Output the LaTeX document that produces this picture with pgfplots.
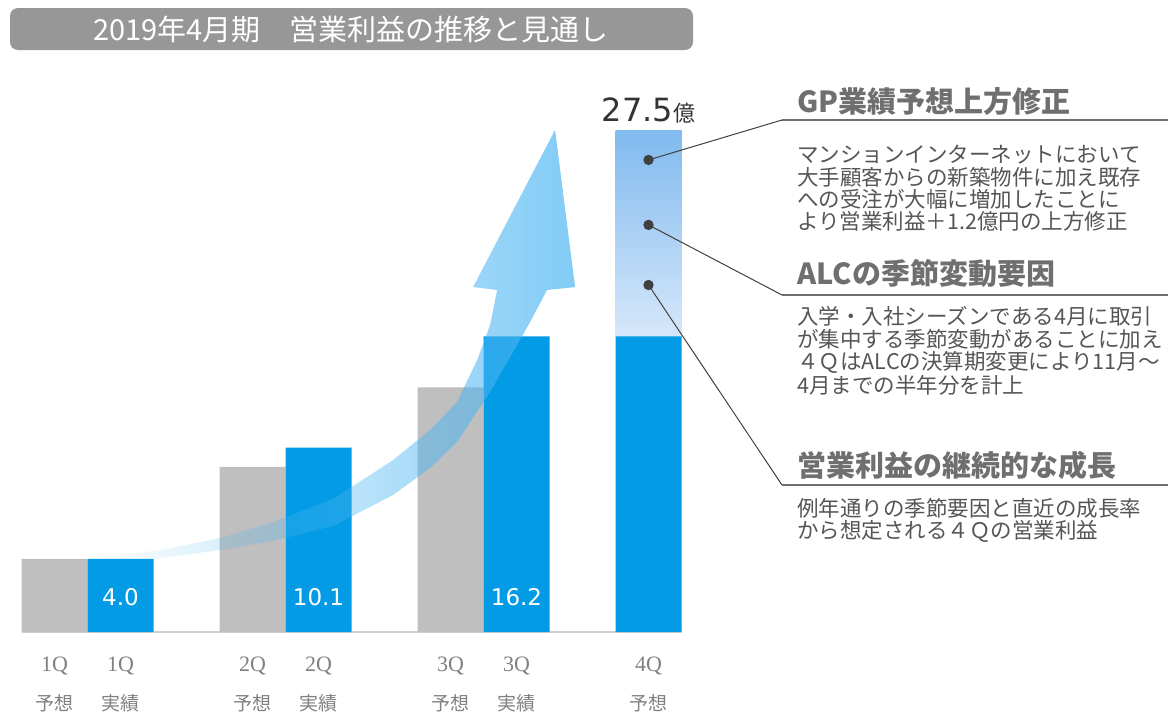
\documentclass[border=0pt]{standalone}
\usepackage{fontspec}
\usepackage{pgfplots}
\pgfplotsset{compat=1.18}
\usetikzlibrary{fadings}
\setmainfont{Noto Sans CJK JP}
\newfontfamily\jp{Noto Sans CJK JP}
\newfontfamily\dv{DejaVu Sans}
\newfontfamily\ser{Liberation Serif}
\newcommand\fs[2]{\fontsize{#1}{#2}\selectfont}
\newcommand\tl[2]{{\ser\fs{11pt}{12pt}#1}\\[8pt]#2}

\definecolor{bblue}{HTML}{039BE5}
\definecolor{bgray}{HTML}{BFBFBF}
\definecolor{gtop}{HTML}{80BAEF}
\definecolor{gbot}{HTML}{D6E7FA}
\definecolor{arrowc}{HTML}{4BB5F2}
\definecolor{titlebg}{HTML}{979797}
\definecolor{headc}{HTML}{6F6F6F}
\definecolor{bodyc}{HTML}{555555}
\definecolor{tickc}{HTML}{808080}
\definecolor{basec}{HTML}{D0D0D0}
\definecolor{leadc}{HTML}{404040}

\tikzfading[name=arrowfade, left color=transparent!100, middle color=transparent!50, right color=transparent!30]

\begin{document}
\begin{tikzpicture}
\useasboundingbox (0,0) rectangle (584pt,360pt);

\begin{axis}[
    at={(10.75pt,44pt)}, anchor=south west,
    scale only axis, width=330pt, height=251pt,
    xmin=-0.5, xmax=9.5, ymin=0, ymax=27.5,
    axis y line=none, axis x line*=bottom,
    x axis line style={draw=basec, line width=0.6pt, -},
    xtick={0,1,3,4,6,7,9},
    xticklabels={{\tl{1Q}{予想}},{\tl{1Q}{実績}},{\tl{2Q}{予想}},{\tl{2Q}{実績}},{\tl{3Q}{予想}},{\tl{3Q}{実績}},{\tl{4Q}{予想}}},
    major tick length=0pt,
    xticklabel style={align=center, text=tickc, yshift=-9pt, font=\jp\fs{9.5pt}{11.4pt}},
    clip=false,
]
% forecast (gray)
\addplot[ybar, bar width=1, bar shift=0pt, fill=bgray, draw=none]
    coordinates {(0,4.0) (3,9.05) (6,13.4)};
% 4Q upward revision part
\addplot[draw=none, top color=gtop, bottom color=gbot]
    coordinates {(8.5,16.2) (9.5,16.2) (9.5,27.5) (8.5,27.5)} -- cycle;
% actual / base (blue)
\addplot[ybar, bar width=1, bar shift=0pt, fill=bblue, draw=none]
    coordinates {(1,4.0) (4,10.1) (7,16.2) (9,16.2)};

% growth arrow
\addplot[draw=none, fill=arrowc, path fading=arrowfade, fit fading=true] coordinates {
    (0.417,4.05) (0.992,4.22) (1.598,4.49) (2.508,5.15) (3.311,6.03)
    (4.220,7.29) (5.129,9.42) (5.689,11.07) (6.098,12.60) (6.402,14.90)
    (6.598,16.82) (6.705,18.74)
    (6.341,18.90) (7.583,27.51) (7.886,18.90)
    (7.462,18.74) (7.205,16.99) (7.008,15.73) (6.598,13.15) (6.098,10.41)
    (5.689,8.99) (5.129,7.51) (4.220,5.81) (3.311,4.99) (2.508,4.49)
    (1.598,4.05) (0.992,3.95) (0.508,3.89)
} -- cycle;

\node[text=white, font=\dv\fs{11.5pt}{13pt}] at (axis cs:1,1.9) {4.0};
\node[text=white, font=\dv\fs{11.5pt}{13pt}] at (axis cs:4,1.9) {10.1};
\node[text=white, font=\dv\fs{11.5pt}{13pt}] at (axis cs:7,1.9) {16.2};
\node[anchor=base, text=black!80, inner sep=0pt] at (axis cs:9,27.95)
    {{\dv\fs{16pt}{18pt}27.5}{\jp\fs{11pt}{13pt}億}};

\coordinate (d1) at (axis cs:9,25.86);
\coordinate (d2) at (axis cs:9,22.30);
\coordinate (d3) at (axis cs:9,19.01);
\end{axis}

\begin{scope}[shift={(0pt,360pt)}, x=0.5pt, y=-0.5pt]
\fill[titlebg, rounded corners=4pt] (10,8) rectangle (693,50);
\node[text=white, font=\jp\fs{14.5pt}{17pt}] at (351,29) {2019年4月期　営業利益の推移と見通し};

\draw[leadc, line width=0.5pt] (d1) -- (782,120);
\draw[leadc, line width=0.5pt] (d2) -- (782,295);
\draw[leadc, line width=0.5pt] (d3) -- (782,485);
\draw[headc, line width=0.7pt] (782,120) -- (1168,120);
\draw[headc, line width=0.7pt] (782,295) -- (1168,295);
\draw[headc, line width=0.7pt] (782,485) -- (1168,485);
\fill[leadc] (d1) circle (2.6pt);
\fill[leadc] (d2) circle (2.6pt);
\fill[leadc] (d3) circle (2.6pt);

\begin{scope}[every node/.style={anchor=west, inner sep=0pt}]
\node[text=headc, font=\jp\bfseries\fs{14.5pt}{17pt}] at (797,102) {GP業績予想上方修正};
\node[text=bodyc, font=\jp\fs{10.75pt}{12pt}] at (797,155) {マンションインターネットにおいて};
\node[text=bodyc, font=\jp\fs{10.75pt}{12pt}] at (797,177) {大手顧客からの新築物件に加え既存};
\node[text=bodyc, font=\jp\fs{10.75pt}{12pt}] at (797,199) {への受注が大幅に増加したことに};
\node[text=bodyc, font=\jp\fs{10.75pt}{12pt}] at (797,221) {より営業利益＋1.2億円の上方修正};

\node[text=headc, font=\jp\bfseries\fs{14.5pt}{17pt}] at (797,273) {ALCの季節変動要因};
\node[text=bodyc, font=\jp\fs{10.75pt}{12pt}] at (797,316) {入学・入社シーズンである4月に取引};
\node[text=bodyc, font=\jp\fs{10.75pt}{12pt}] at (797,339) {が集中する季節変動があることに加え};
\node[text=bodyc, font=\jp\fs{10.75pt}{12pt}] at (797,362) {４ＱはALCの決算期変更により11月～};
\node[text=bodyc, font=\jp\fs{10.75pt}{12pt}] at (797,385) {4月までの半年分を計上};

\node[text=headc, font=\jp\bfseries\fs{14.5pt}{17pt}] at (797,465) {営業利益の継続的な成長};
\node[text=bodyc, font=\jp\fs{10.75pt}{12pt}] at (797,508) {例年通りの季節要因と直近の成長率};
\node[text=bodyc, font=\jp\fs{10.75pt}{12pt}] at (797,531) {から想定される４Ｑの営業利益};
\end{scope}
\end{scope}
\end{tikzpicture}
\end{document}
